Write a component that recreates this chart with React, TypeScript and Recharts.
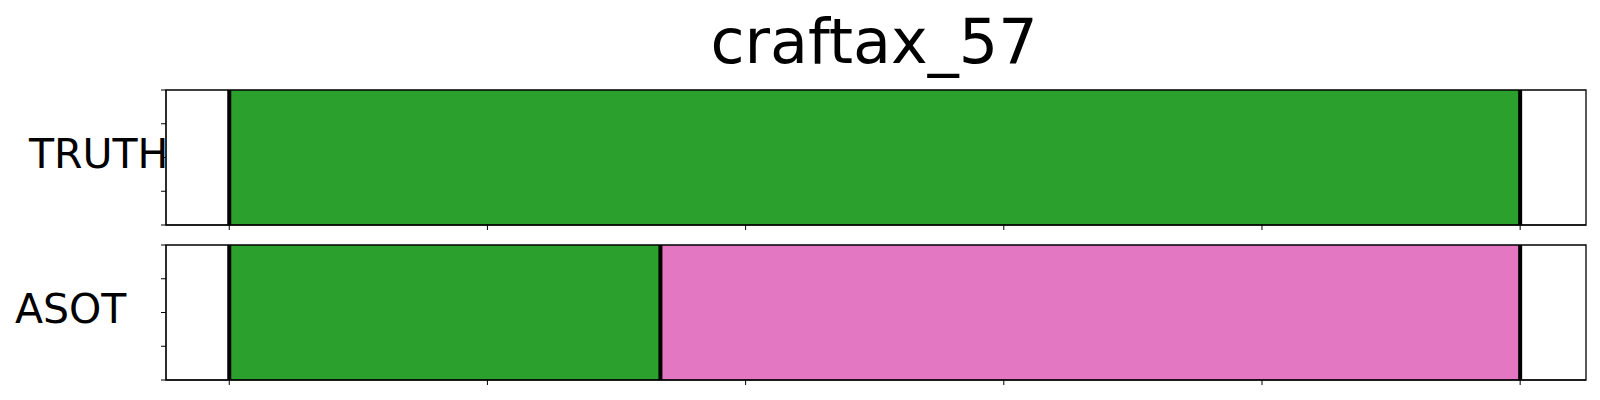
import { ComposedChart, Area, XAxis, YAxis, ReferenceLine, ReferenceArea } from 'recharts';

// segment lengths in frames, same x scale as the ticks below
const truthLengths = [100];
const truthClasses = [2];
const asotLengths = [33.4, 66.6];
const asotClasses = [2, 6];

const xTicks = [0, 20, 40, 60, 80, 100];
const yTicks = [0, 0.25, 0.5, 0.75, 1];
const xDomain: [number, number] = [-4.9, 105.1];

// matplotlib tab10
const palette = ['#1f77b4', '#ff7f0e', '#2ca02c', '#d62728', '#9467bd', '#8c564b', '#e377c2', '#7f7f7f', '#bcbd22', '#17becf'];

const FONT = '"DejaVu Sans", sans-serif';

function SegmentRow({ lengths, classes, top }: { lengths: number[]; classes: number[]; top: number }) {
  // boundaries where the black separators go
  const bounds = [0];
  lengths.forEach((len) => bounds.push(bounds[bounds.length - 1] + len));

  // one point per boundary; segment i is "on" at its own two boundaries
  const data = bounds.map((b, j) => {
    const pt: Record<string, number | null> = { x: b };
    lengths.forEach((_, i) => (pt['s' + i] = j === i || j === i + 1 ? 1 : null));
    return pt;
  });

  return (
    <div style={{ position: 'absolute', left: 0, top }}>
      <ComposedChart width={1600} height={160} data={data} margin={{ top: 10, right: 14, bottom: 5, left: 156 }}>
        <XAxis
          type="number"
          dataKey="x"
          domain={xDomain}
          ticks={xTicks}
          tickFormatter={() => ''}
          tickSize={5}
          height={10}
          stroke="#000"
          allowDataOverflow
        />
        <YAxis
          type="number"
          domain={[0, 1]}
          ticks={yTicks}
          tickFormatter={() => ''}
          tickSize={5}
          width={10}
          stroke="#000"
          allowDataOverflow
        />
        {lengths.map((_, i) => (
          <Area
            key={i}
            type="linear"
            dataKey={'s' + i}
            baseValue={0}
            stroke="none"
            fill={palette[classes[i]]}
            fillOpacity={1}
            dot={false}
            activeDot={false}
            isAnimationActive={false}
          />
        ))}
        {bounds.map((b, i) => (
          <ReferenceLine key={i} x={b} stroke="#000" strokeWidth={4} />
        ))}
        <ReferenceArea x1={xDomain[0]} x2={xDomain[1]} y1={0} y2={1} fill="none" stroke="#000" strokeWidth={1.3} />
      </ComposedChart>
    </div>
  );
}

export default function App() {
  return (
    <div style={{ position: 'absolute', left: 0, top: 0, width: 1600, height: 400, background: '#fff' }}>
      <SegmentRow lengths={truthLengths} classes={truthClasses} top={80} />
      <SegmentRow lengths={asotLengths} classes={asotClasses} top={235} />
      <svg width={1600} height={400} style={{ position: 'absolute', left: 0, top: 0, pointerEvents: 'none' }}>
        <text x={874} y={63} textAnchor="middle" fontFamily={FONT} fontSize={62} fill="#000">
          craftax_57
        </text>
        <text x={29} y={168} fontFamily={FONT} fontSize={41} fill="#000">
          TRUTH
        </text>
        <text x={15} y={323} fontFamily={FONT} fontSize={41} fill="#000">
          ASOT
        </text>
      </svg>
    </div>
  );
}
